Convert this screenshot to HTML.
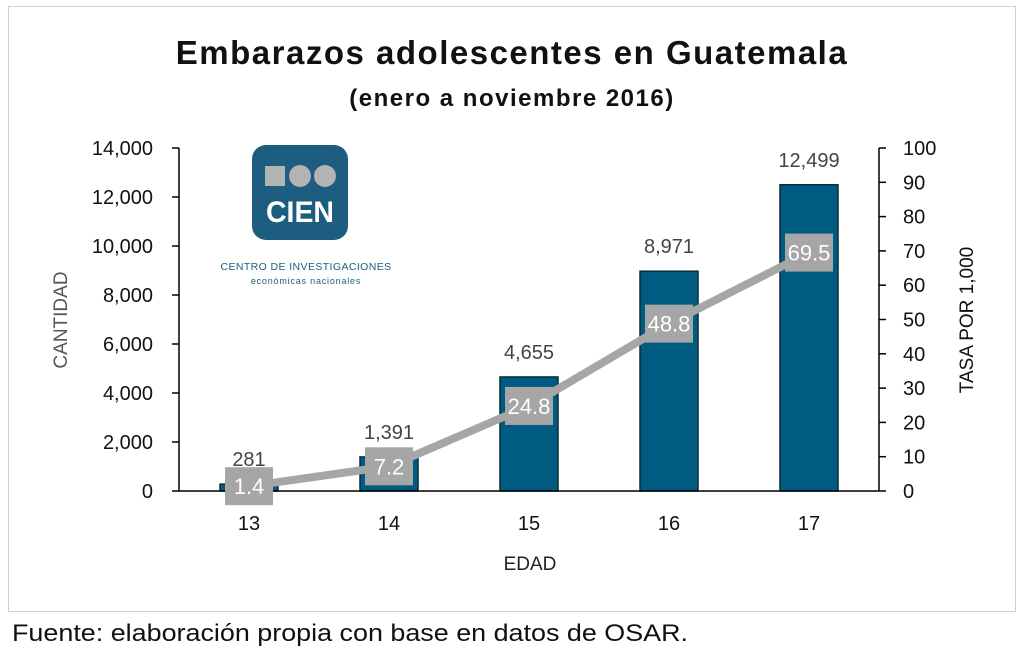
<!DOCTYPE html>
<html><head><meta charset="utf-8">
<style>
body{margin:0;background:#fff;width:1024px;height:660px;overflow:hidden;font-family:"Liberation Sans",sans-serif}
svg text{font-family:"Liberation Sans",sans-serif}
</style></head>
<body>
<svg width="1024" height="660" viewBox="0 0 1024 660">
<rect x="8.5" y="6.5" width="1007" height="605" fill="#fff" stroke="#d0d0d0"/>
<text x="512" y="64" text-anchor="middle" font-size="33" font-weight="bold" letter-spacing="1.5" fill="#111">Embarazos adolescentes en Guatemala</text>
<text x="512" y="106" text-anchor="middle" font-size="24" font-weight="bold" letter-spacing="1.5" fill="#111">(enero a noviembre 2016)</text>
<g>
<rect x="252" y="145" width="96" height="95" rx="14" fill="#1d5e80"/>
<rect x="265" y="166" width="20" height="20" fill="#b3b3b3"/>
<circle cx="300" cy="176" r="11" fill="#b3b3b3"/>
<circle cx="325" cy="176" r="11" fill="#b3b3b3"/>
<text x="300" y="222" text-anchor="middle" font-size="30" font-weight="bold" fill="#fff" textLength="68" lengthAdjust="spacingAndGlyphs">CIEN</text>
<text x="306" y="270" text-anchor="middle" font-size="10.5" fill="#1d5e80" letter-spacing="0.4">CENTRO DE INVESTIGACIONES</text>
<text x="306" y="284" text-anchor="middle" font-size="9" fill="#1d5e80" letter-spacing="0.8">económicas nacionales</text>
</g>
<g id="plot"></g>
<text x="530" y="570" text-anchor="middle" font-size="19" fill="#222">EDAD</text>
<text transform="translate(67,320) rotate(-90)" text-anchor="middle" font-size="19" fill="#555">CANTIDAD</text>
<text transform="translate(973,320) rotate(-90)" text-anchor="middle" font-size="19" fill="#111">TASA POR 1,000</text>
<text x="12" y="641" font-size="24" fill="#111" textLength="676" lengthAdjust="spacingAndGlyphs">Fuente: elaboración propia con base en datos de OSAR.</text>
</svg>
<script>
const categories=["13","14","15","16","17"];
const counts=[281,1391,4655,8971,12499];
const countLabels=["281","1,391","4,655","8,971","12,499"];
const rates=[1.4,7.2,24.8,48.8,69.5];
const leftTicks=[0,2000,4000,6000,8000,10000,12000,14000];
const rightTicks=[0,10,20,30,40,50,60,70,80,90,100];
const NS="http://www.w3.org/2000/svg";
const g=document.getElementById('plot');
const L=179,R=879,T=148,B=491;
const band=(R-L)/categories.length;
const xc=i=>L+band*(i+0.5);
const yL=v=>B-(v/14000)*(B-T);
const yR=v=>B-(v/100)*(B-T);
function mk(t,a){const e=document.createElementNS(NS,t);for(const k in a)e.setAttribute(k,a[k]);g.appendChild(e);return e;}
let e=mk('line',{x1:L,y1:T,x2:L,y2:B,stroke:'#000','stroke-width':1.5});


e=mk('line',{x1:R,y1:T,x2:R,y2:B,stroke:'#000','stroke-width':1.5});


leftTicks.forEach(v=>{
 mk('line',{x1:L-7,y1:yL(v),x2:L,y2:yL(v),stroke:'#000','stroke-width':1.5});
 const t=mk('text',{x:L-26,y:yL(v)+7,'text-anchor':'end','font-size':20,fill:'#111'});
 t.textContent=v.toLocaleString('en-US');
 
 
});
rightTicks.forEach(v=>{
 mk('line',{x1:R,y1:yR(v),x2:R+7,y2:yR(v),stroke:'#000','stroke-width':1.5});
 const t=mk('text',{x:R+24,y:yR(v)+7,'font-size':20,fill:'#111'});
 t.textContent=v;
 
 
});
counts.forEach((v,i)=>{
 const b=mk('rect',{x:xc(i)-29,y:yL(v),width:58,height:B-yL(v),fill:'#005b82',stroke:'#0b2c3b','stroke-width':1.5});
 
 
 const t=mk('text',{x:xc(i),y:yL(v)-18,'text-anchor':'middle','font-size':20,fill:'#444'});
 t.textContent=countLabels[i];
 
 
 const c=mk('text',{x:xc(i),y:B+39,'text-anchor':'middle','font-size':20,fill:'#111'});
 c.textContent=categories[i];
 
 
});
mk('line',{x1:L,y1:B,x2:R,y2:B,stroke:'#000','stroke-width':1.5});
const pl=mk('polyline',{points:rates.map((v,i)=>xc(i)+','+yR(v)).join(' '),fill:'none',stroke:'#a6a6a6','stroke-width':8});


rates.forEach((v,i)=>{
 const r=mk('rect',{x:xc(i)-24,y:yR(v)-19,width:48,height:38,fill:'#a6a6a6'});
 
 
 const t=mk('text',{x:xc(i),y:yR(v)+8,'text-anchor':'middle','font-size':22,fill:'#fff'});
 t.textContent=v.toFixed(1);
 
 
});
</script>
</body></html>
